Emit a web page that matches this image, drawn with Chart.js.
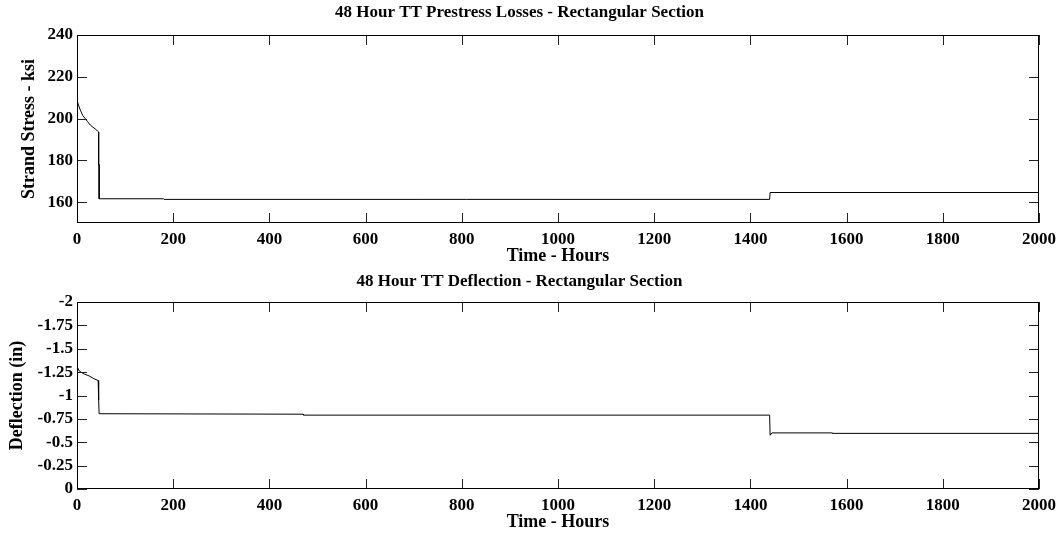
<!DOCTYPE html>
<html>
<head>
<meta charset="utf-8">
<script src="https://cdn.jsdelivr.net/npm/chart.js@4/dist/chart.umd.min.js"></script>
<style>
  html, body { margin: 0; padding: 0; background: #fff; }
  .panel { position: absolute; left: 0; width: 1062px; height: 268px; }
</style>
</head>
<body>
<div class="panel" style="top:0"><canvas id="stressChart" width="1062" height="268"></canvas></div>
<div class="panel" style="top:268px"><canvas id="deflChart" width="1062" height="268"></canvas></div>
<script>
// time axis (hours)
const timeTicks = [0, 200, 400, 600, 800, 1000, 1200, 1400, 1600, 1800, 2000];

// top panel: strand stress (ksi)
const stressTime = [0, 3, 7, 12, 17, 22, 28, 38, 45, 45, 46, 46, 180, 181, 1440, 1441, 2000];
const stressKsi = [209, 206.5, 204, 201.5, 200, 198.5, 196.8, 195, 193.6, 178, 178, 161.6, 161.6, 161.3, 161.3, 164.6, 164.6];
const stressTicks = [160, 180, 200, 220, 240];

// bottom panel: deflection (in)
const deflTime = [0, 5, 15, 25, 35, 44, 45, 46, 470, 471, 1440, 1441, 1445, 1570, 1571, 2000];
const deflIn = [-1.31, -1.26, -1.23, -1.21, -1.18, -1.16, -0.95, -0.805, -0.80, -0.79, -0.79, -0.575, -0.60, -0.60, -0.595, -0.595];
const deflTicks = [-2, -1.75, -1.5, -1.25, -1, -0.75, -0.5, -0.25, 0];

const serif = "'Liberation Serif', 'DejaVu Serif', serif";

// box round the plot and MATLAB-style inward ticks
const boxTicks = {
  id: 'boxTicks',
  afterDraw(chart) {
    const { ctx, chartArea: a, scales } = chart;
    const len = 10;
    ctx.save();
    ctx.strokeStyle = '#222';
    ctx.lineWidth = 1;
    ctx.beginPath();
    scales.x.ticks.forEach(t => {
      const px = Math.round(scales.x.getPixelForValue(t.value)) + 0.5;
      ctx.moveTo(px, a.bottom); ctx.lineTo(px, a.bottom - len);
      ctx.moveTo(px, a.top); ctx.lineTo(px, a.top + len);
    });
    scales.y.ticks.forEach(t => {
      const py = Math.round(scales.y.getPixelForValue(t.value)) + 0.5;
      ctx.moveTo(a.left, py); ctx.lineTo(a.left + len, py);
      ctx.moveTo(a.right, py); ctx.lineTo(a.right - len, py);
    });
    ctx.stroke();
    ctx.strokeStyle = '#000';
    ctx.strokeRect(Math.round(a.left) + 0.5, Math.round(a.top) + 0.5,
                   Math.round(a.width) - 1, Math.round(a.height) - 1);
    ctx.restore();
  }
};

function makeChart(id, opts) {
  const ctx = document.getElementById(id).getContext('2d');
  return new Chart(ctx, {
    type: 'line',
    data: {
      datasets: [{
        data: opts.xs.map((x, i) => ({ x: x, y: opts.ys[i] })),
        borderColor: '#000',
        borderWidth: 1,
        pointRadius: 0,
        tension: 0,
        fill: false
      }]
    },
    options: {
      responsive: false,
      animation: false,
      layout: { padding: { left: 0, right: 23, top: 0, bottom: 0 } },
      plugins: {
        legend: { display: false },
        tooltip: { enabled: false },
        title: {
          display: true,
          text: opts.title,
          color: '#000',
          font: { family: serif, size: 17, weight: 'bold' },
          padding: opts.titlePad
        }
      },
      scales: {
        x: {
          type: 'linear',
          min: 0,
          max: 2000,
          afterBuildTicks: s => { s.ticks = timeTicks.map(v => ({ value: v })); },
          afterFit: s => { s.height = opts.xHeight; },
          grid: { display: false, drawTicks: false },
          border: { display: false },
          ticks: {
            color: '#000',
            padding: 6,
            maxRotation: 0,
            autoSkip: false,
            font: { family: serif, size: 17, weight: 'bold' },
            callback: v => String(v)
          },
          title: {
            display: true,
            text: 'Time - Hours',
            color: '#000',
            font: { family: serif, size: 18, weight: 'bold' },
            padding: { top: 0, bottom: opts.xTitleBottom }
          }
        },
        y: {
          min: opts.yMin,
          max: opts.yMax,
          reverse: opts.reverse,
          afterBuildTicks: s => { s.ticks = opts.yTicks.map(v => ({ value: v })); },
          afterFit: s => { s.width = 77; },
          grid: { display: false, drawTicks: false },
          border: { display: false },
          ticks: {
            color: '#000',
            padding: 4,
            autoSkip: false,
            font: { family: serif, size: 17, weight: 'bold' },
            callback: v => String(v)
          },
          title: {
            display: true,
            text: opts.yTitle,
            color: '#000',
            font: { family: serif, size: 18, weight: 'bold' },
            padding: { top: opts.yTitleTop, bottom: 0 }
          }
        }
      }
    },
    plugins: [boxTicks]
  });
}

makeChart('stressChart', {
  xs: stressTime, ys: stressKsi, yTicks: stressTicks,
  yMin: 150, yMax: 240, reverse: false,
  title: '48 Hour TT Prestress Losses - Rectangular Section',
  titlePad: { top: 2, bottom: 12.6 },
  yTitle: 'Strand Stress - ksi', yTitleTop: 19,
  xHeight: 45, xTitleBottom: 1
});

makeChart('deflChart', {
  xs: deflTime, ys: deflIn, yTicks: deflTicks,
  yMin: -2, yMax: 0, reverse: true,
  title: '48 Hour TT Deflection - Rectangular Section',
  titlePad: { top: 3, bottom: 10.6 },
  yTitle: 'Deflection (in)', yTitleTop: 7,
  xHeight: 47, xTitleBottom: 3
});
</script>
</body>
</html>
